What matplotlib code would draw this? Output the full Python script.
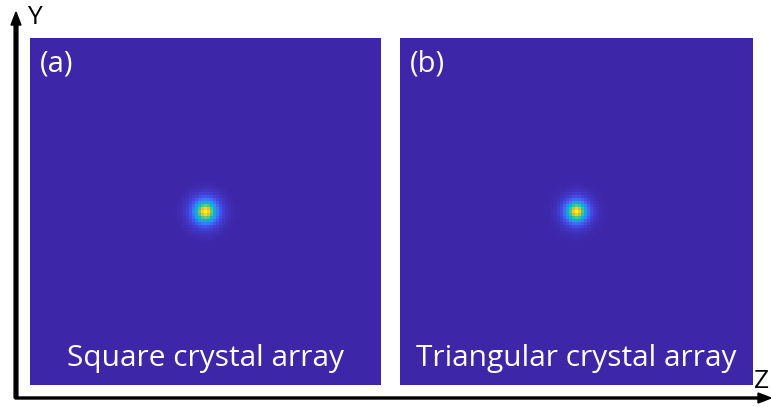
import matplotlib.pyplot as plt
import numpy as np
from matplotlib.colors import LinearSegmentedColormap
from matplotlib.patches import FancyArrow

# radial intensity profile of the spot (radius in screen pixels, normalised intensity)
radius_a = [0, 2, 4, 6, 8, 10, 13, 16, 20, 25, 32, 200]
level_a = [1.0, 0.95, 0.8, 0.6, 0.42, 0.3, 0.18, 0.1, 0.05, 0.02, 0.0, 0.0]
radius_b = [0, 2, 4, 6, 8, 10, 13, 16, 20, 25, 32, 200]
level_b = [1.0, 0.93, 0.76, 0.56, 0.38, 0.26, 0.15, 0.08, 0.04, 0.015, 0.0, 0.0]

labels = ["(a)", "(b)"]
captions = ["Square crystal array", "Triangular crystal array"]

parula = LinearSegmentedColormap.from_list("parula", [
    (0.2422, 0.1504, 0.6603), (0.2810, 0.3228, 0.9579), (0.1540, 0.5902, 0.9218),
    (0.0297, 0.7082, 0.8163), (0.1938, 0.7758, 0.6251), (0.5044, 0.7993, 0.3480),
    (0.8634, 0.7406, 0.1596), (0.9892, 0.8136, 0.1885), (0.9769, 0.9839, 0.0805)])

W, H = 771, 407
fig = plt.figure(figsize=(W / 100, H / 100), dpi=100)


def box(x0, y0, x1, y1):
    return [x0 / W, 1 - y1 / H, (x1 - x0) / W, (y1 - y0) / H]


n = 117  # coarse grid, ~3 screen px per cell
yy, xx = np.mgrid[0:n, 0:n]
r = np.hypot(xx - (n - 1) / 2, yy - (n - 1) / 2) * 3

panels = [(30, 38, 381, 385), (400, 38, 752, 385)]
for (x0, y0, x1, y1), rad, lev, lab, cap in zip(panels, [radius_a, radius_b],
                                                 [level_a, level_b], labels, captions):
    ax = fig.add_axes(box(x0, y0, x1, y1))
    img = np.interp(r, rad, lev)
    ax.imshow(img, cmap=parula, vmin=0, vmax=1, interpolation="nearest", aspect="auto")
    ax.set_axis_off()
    ax.text(0.028, 0.925, lab, transform=ax.transAxes, color="white", fontsize=21,
            family="Open Sans", va="center", ha="left")
    ax.text(0.5, 0.075, cap, transform=ax.transAxes, color="white", fontsize=21.5,
            family="Open Sans", va="center", ha="center")

# coordinate arrows
fig.patches.append(FancyArrow(
    16 / W, 1 - 398 / H, 0, (398 - 12) / H, width=2 / H, head_width=10 / W,
    head_length=13 / H, length_includes_head=True, color="black",
    transform=fig.transFigure, figure=fig))
fig.patches.append(FancyArrow(
    15 / W, 1 - 398 / H, (771 - 15) / W, 0, width=2 / H, head_width=10 / H,
    head_length=13 / W, length_includes_head=True, color="black",
    transform=fig.transFigure, figure=fig))
fig.text(27 / W, 1 - 17 / H, "Y", fontsize=19, family="Open Sans", va="center", ha="left")
fig.text(754 / W, 1 - 382 / H, "Z", fontsize=19, family="Open Sans", va="center", ha="left")

fig.savefig("out.png", dpi=100)
